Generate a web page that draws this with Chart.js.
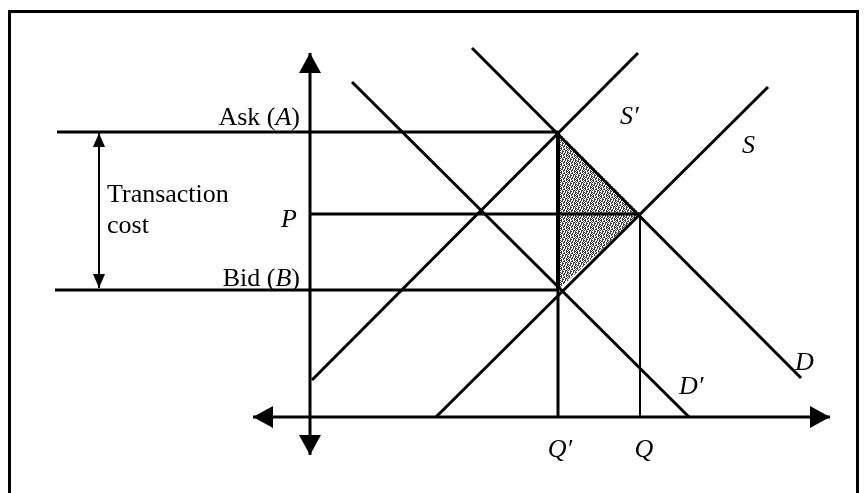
<!DOCTYPE html>
<html>
<head>
<meta charset="utf-8">
<script src="https://cdn.jsdelivr.net/npm/chart.js@4.4.0/dist/chart.umd.min.js"></script>
<style>
  html, body { margin: 0; padding: 0; background: #fff; }
  canvas { display: block; }
</style>
</head>
<body>
<canvas id="diagram" width="867" height="493"></canvas>
<script>
// price levels on the vertical axis (origin = where the axes cross)
const priceNames = ["ask", "mid", "bid"];
const priceValues = [285, 203, 127];
// quantities on the horizontal axis
const qtyNames = ["Q'", "Q"];
const qtyValues = [248, 330];
// curve end points [x, y]
const supplyShifted = [[2, 37], [328, 364]];    // S'
const supplyCurve = [[126, 0], [458, 330]];     // S
const demandShifted = [[42, 335], [379, 0]];    // D'
const demandCurve = [[162, 369], [491, 39]];    // D
// axes and the transaction cost bracket
const yAxisEnds = [[0, 364], [0, -38]];
const xAxisEnds = [[-57, 0], [520, 0]];
const askLineStart = -253;
const bidLineStart = -255;
const costArrowX = -211;

const [ASK, MID, BID] = priceValues;
const [Q1, Q2] = qtyValues;

const pts = arr => arr.map(([x, y]) => ({ x, y }));

// speckled grey fill for the triangle (fixed tile, scanned-print look)
function speckle() {
  const tile = [
    "#.#..#.#",
    ".##.#..#",
    "#..##.#.",
    ".#.#..##",
    "##..#.#.",
    ".#.##..#",
    "#.#..##.",
    "..##.#.#"
  ];
  const c = document.createElement("canvas");
  c.width = 8; c.height = 8;
  const g = c.getContext("2d");
  g.fillStyle = "#ffffff";
  g.fillRect(0, 0, 8, 8);
  g.fillStyle = "#3a3a3a";
  tile.forEach((row, y) => [...row].forEach((ch, x) => { if (ch === "#") g.fillRect(x, y, 1, 1); }));
  return g.createPattern(c, "repeat");
}

function line(data, width, extra) {
  return Object.assign({
    data: pts(data),
    showLine: true,
    borderColor: "#000",
    borderWidth: width,
    pointRadius: 0,
    fill: false,
    tension: 0
  }, extra || {});
}

const datasets = [
  line(yAxisEnds, 3, { arrow: { size: 22, len: 20 } }),
  line(xAxisEnds, 3, { arrow: { size: 22, len: 20 } }),
  line([[askLineStart, ASK], [Q1, ASK]], 3),
  line([[bidLineStart, BID], [Q1, BID]], 3),
  line([[0, MID], [Q2, MID]], 3),
  line([[Q1, 0], [Q1, ASK]], 3),
  line([[Q1, BID], [Q1, ASK]], 4),
  line([[Q2, 0], [Q2, MID]], 2),
  line(supplyShifted, 3),
  line(supplyCurve, 3),
  line(demandShifted, 3),
  line(demandCurve, 3),
  line([[costArrowX, ASK - 1], [costArrowX, BID + 2]], 2, { arrow: { size: 12, len: 14 } }),
  line([[Q1, ASK], [Q2, MID], [Q1, BID], [Q1, ASK]], 0, {
    fill: "shape", backgroundColor: speckle(), order: 10
  })
];

// [segments, x, y, align]; segment = [text, italic]
const labels = [
  [[["Ask (", false], ["A", true], [")", false]], -10, 292, "right"],
  [[["P", true]], -13, 190, "right"],
  [[["Bid (", false], ["B", true], [")", false]], -10, 131, "right"],
  [[["Transaction", false]], -203, 215, "left"],
  [[["cost", false]], -203, 184, "left"],
  [[["S\u2032", true]], 310, 293, "left"],
  [[["S", true]], 432, 264, "left"],
  [[["D", true]], 485, 47, "left"],
  [[["D\u2032", true]], 369, 23, "left"],
  [[[qtyNames[0].replace("'", "\u2032"), true]], Q1 + 2, -40, "center"],
  [[[qtyNames[1], true]], Q2 + 4, -40, "center"]
];

const FONT = 26;
const fontFor = it => (it ? "italic " : "") + FONT + "px 'Liberation Serif', 'DejaVu Serif', serif";

const diagramPlugin = {
  id: "diagram",
  beforeDraw(chart) {
    const ctx = chart.ctx;
    ctx.save();
    ctx.strokeStyle = "#000";
    ctx.lineWidth = 3;
    ctx.beginPath();
    ctx.moveTo(9.5, 493);
    ctx.lineTo(9.5, 11.5);
    ctx.lineTo(857.5, 11.5);
    ctx.lineTo(857.5, 493);
    ctx.stroke();
    ctx.restore();
  },
  afterDatasetsDraw(chart) {
    const ctx = chart.ctx;
    const sx = chart.scales.x, sy = chart.scales.y;
    ctx.save();
    ctx.fillStyle = "#000";
    chart.data.datasets.forEach((ds, i) => {
      if (!ds.arrow) return;
      const el = chart.getDatasetMeta(i).data;
      const a = el[0], b = el[el.length - 1];
      [[a, b], [b, a]].forEach(([tip, from]) => {
        const dx = tip.x - from.x, dy = tip.y - from.y;
        const d = Math.hypot(dx, dy), ux = dx / d, uy = dy / d;
        const bx = tip.x - ux * ds.arrow.len, by = tip.y - uy * ds.arrow.len;
        const h = ds.arrow.size / 2;
        ctx.beginPath();
        ctx.moveTo(tip.x, tip.y);
        ctx.lineTo(bx - uy * h, by + ux * h);
        ctx.lineTo(bx + uy * h, by - ux * h);
        ctx.closePath();
        ctx.fill();
      });
    });
    ctx.textBaseline = "alphabetic";
    labels.forEach(([segs, x, y, align]) => {
      const widths = segs.map(([t, it]) => { ctx.font = fontFor(it); return ctx.measureText(t).width; });
      const total = widths.reduce((s, w) => s + w, 0);
      let px = sx.getPixelForValue(x);
      const py = sy.getPixelForValue(y);
      if (align === "right") px -= total;
      if (align === "center") px -= total / 2;
      segs.forEach(([t, it], k) => {
        ctx.font = fontFor(it);
        ctx.textAlign = "left";
        ctx.fillText(t, px, py);
        px += widths[k];
      });
    });
    ctx.restore();
  }
};

new Chart(document.getElementById("diagram"), {
  type: "scatter",
  data: { datasets },
  options: {
    responsive: false,
    animation: false,
    events: [],
    layout: { padding: 0 },
    plugins: { legend: { display: false }, tooltip: { enabled: false } },
    scales: {
      x: { type: "linear", min: -310, max: 557, display: false },
      y: { type: "linear", min: -76, max: 417, display: false }
    }
  },
  plugins: [diagramPlugin]
});
</script>
</body>
</html>
